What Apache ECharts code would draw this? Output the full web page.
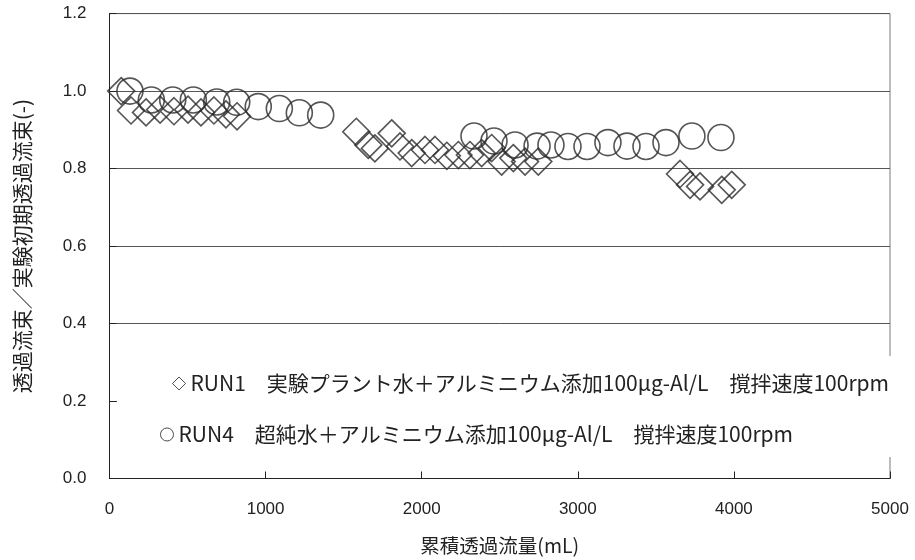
<!DOCTYPE html>
<html>
<head>
<meta charset="utf-8">
<script src="https://cdn.jsdelivr.net/npm/echarts@6/dist/echarts.min.js"></script>
<style>
  html, body { margin: 0; padding: 0; background: #fff; }
  #chart { width: 915px; height: 560px; }
</style>
</head>
<body>
<div id="chart"></div>
<script>
// Cumulative permeate volume (mL) and normalised flux for each run
const run1Volume = [75, 138, 234, 324, 413, 503, 586, 669, 746, 817,
  1581, 1658, 1700, 1808, 1861, 1936, 2021, 2085, 2161, 2235, 2309, 2384, 2448, 2512, 2587, 2662, 2747,
  3655, 3719, 3783, 3922, 3986];
const run1Flux = [1.0, 0.95, 0.945, 0.952, 0.948, 0.952, 0.945, 0.95, 0.94, 0.935,
  0.895, 0.861, 0.852, 0.891, 0.857, 0.840, 0.848, 0.848, 0.833, 0.835, 0.835, 0.840, 0.853, 0.818, 0.827, 0.818, 0.818,
  0.786, 0.758, 0.754, 0.745, 0.758];

const run4Volume = [131, 268, 405, 537, 687, 815, 953, 1088, 1216, 1353,
  2335, 2463, 2598, 2739, 2828, 2937, 3059, 3193, 3315, 3437, 3565, 3731, 3917];
const run4Flux = [1.0, 0.977, 0.977, 0.977, 0.972, 0.971, 0.960, 0.955, 0.944, 0.938,
  0.884, 0.871, 0.861, 0.858, 0.861, 0.857, 0.857, 0.867, 0.858, 0.857, 0.867, 0.884, 0.880];

const run1Name = 'RUN1　実験プラント水＋アルミニウム添加100μg-Al/L　撹拌速度100rpm';
const run4Name = 'RUN4　超純水＋アルミニウム添加100μg-Al/L　撹拌速度100rpm';

const xTicks = [0, 1000, 2000, 3000, 4000, 5000];
const yTicks = [0, 0.2, 0.4, 0.6, 0.8, 1.0, 1.2];

const pair = (xs, ys) => xs.map((x, i) => [x, ys[i]]);

const ink = '#2b2b2b';
const cjk = '"Noto Sans CJK JP", sans-serif';
const latin = '"Liberation Sans", Arial, sans-serif';

const chart = echarts.init(document.getElementById('chart'), null, { renderer: 'canvas' });

const legendCommon = {
  orient: 'horizontal', z: 5,
  itemWidth: 13, itemHeight: 13,
  itemStyle: { color: 'rgba(255,255,255,0)', borderColor: '#222', borderWidth: 1 },
  textStyle: { fontFamily: cjk, fontSize: 21, color: '#222' }
};

chart.setOption({
  backgroundColor: '#ffffff',
  animation: false,
  grid: {
    left: 109.5, right: 25, top: 13.6, bottom: 80.5,
    show: true, borderColor: '#7a7a7a', borderWidth: 1, backgroundColor: 'transparent'
  },
  xAxis: {
    type: 'value',
    min: xTicks[0], max: xTicks[xTicks.length - 1], interval: 1000,
    name: '累積透過流量(mL)', nameLocation: 'middle', nameGap: 57,
    nameTextStyle: { fontFamily: cjk, fontSize: 19.5, color: '#222' },
    axisLine: { show: true, lineStyle: { color: '#222', width: 1 } },
    axisTick: { show: true, inside: true, length: 7, lineStyle: { color: '#222' } },
    axisLabel: { margin: 22, fontFamily: latin, fontSize: 17, color: '#222', formatter: v => String(v) },
    splitLine: { show: false }
  },
  yAxis: {
    type: 'value',
    min: yTicks[0], max: yTicks[yTicks.length - 1], interval: 0.2,
    name: '透過流束／実験初期透過流束(-)', nameLocation: 'middle', nameGap: 77,
    nameTextStyle: { fontFamily: cjk, fontSize: 21, color: '#222' },
    axisLine: { show: true, lineStyle: { color: '#222', width: 1 } },
    axisTick: { show: true, inside: true, length: 7, lineStyle: { color: '#222' } },
    axisLabel: {
      margin: 23, fontFamily: latin, fontSize: 17, color: '#222',
      formatter: v => v.toFixed(1)
    },
    splitLine: { show: true, lineStyle: { color: '#555', width: 1 } }
  },
  graphic: [{
    // white panel behind the legend text
    type: 'rect', left: 117, top: 356, z: 3,
    shape: { width: 780, height: 101 },
    style: { fill: '#ffffff' }
  }],
  legend: [
    Object.assign({ data: [run1Name], left: 167, top: 368 }, legendCommon),
    Object.assign({ data: [run4Name], left: 155, top: 419 }, legendCommon)
  ],
  series: [{
    name: run1Name,
    type: 'scatter',
    symbol: 'diamond', symbolSize: 27,
    itemStyle: { color: 'rgba(255,255,255,0)', borderColor: ink, borderWidth: 1.6 },
    data: pair(run1Volume, run1Flux)
  }, {
    name: run4Name,
    type: 'scatter',
    symbol: 'circle', symbolSize: 26,
    itemStyle: { color: 'rgba(255,255,255,0)', borderColor: ink, borderWidth: 1.6 },
    data: pair(run4Volume, run4Flux)
  }]
});
</script>
</body>
</html>
